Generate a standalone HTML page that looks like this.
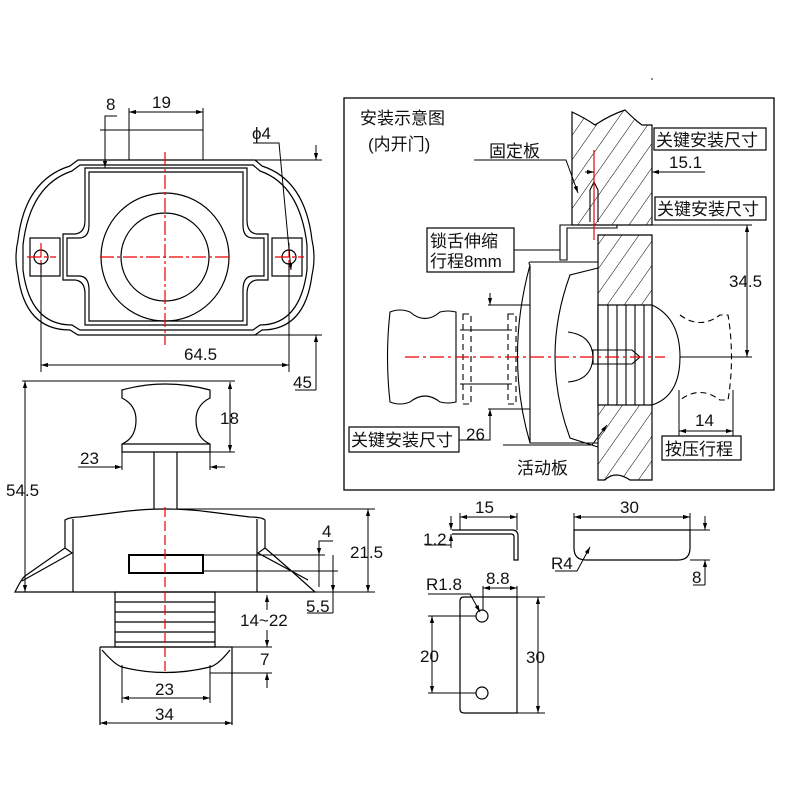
<!DOCTYPE html>
<html><head><meta charset="utf-8"><style>
html,body{margin:0;padding:0;background:#fff}
svg{display:block}
text{font-family:"Liberation Sans","Noto Sans CJK SC",sans-serif;fill:#111}
</style></head><body>
<svg width="800" height="800" viewBox="0 0 800 800" xmlns="http://www.w3.org/2000/svg">
<defs>
<marker id="a" viewBox="0 0 10 10" refX="10" refY="5" markerWidth="7" markerHeight="7" orient="auto-start-reverse"><path d="M0,2 L10,5 L0,8z" fill="#000"/></marker>
<pattern id="h" width="14" height="14" patternUnits="userSpaceOnUse" patternTransform="rotate(35)"><line x1="0" y1="0" x2="0" y2="14" stroke="#000" stroke-width="1"/></pattern>
</defs>
<g fill="none" stroke="#000" stroke-width="1.2">
<!-- TOP VIEW -->
<path d="M78,160 L255,160 L262,166 Q305,180 312,240 Q316,257 312,275 Q305,330 262,330 L255,335 L78,335 L70,330 Q25,330 18,275 Q14,257 18,240 Q25,180 70,166 Z"/>
<path d="M80,165 L253,165 L260,171 Q300,185 307,245 L307,270 Q300,325 260,325 L253,330 L80,330 L72,325 Q30,325 23,270 L23,245 Q30,185 72,171 Z"/>
<path d="M85,168 L247,168 L247,220 Q247,233 257,234 L268,234 L268,280 L257,280 Q247,281 247,294 L247,325 L85,325 L85,294 Q85,281 75,280 L63,280 L63,234 L75,234 Q85,233 85,220 Z"/>
<path d="M89,172 L243,172 L243,225 Q243,238 253,238 L264,238 L264,276 L253,276 Q243,276 243,290 L243,321 L89,321 L89,290 Q89,276 79,276 L67,276 L67,238 L79,238 Q89,238 89,225 Z"/>
<rect x="30" y="238" width="30" height="38"/><rect x="272" y="238" width="30" height="38"/>
<circle cx="165" cy="257" r="64"/><circle cx="165" cy="257" r="44"/>
<circle cx="41" cy="257" r="7"/><circle cx="289" cy="257" r="7"/>
</g>
<g stroke="#e00" stroke-width="1.2" stroke-dasharray="14,3,3,3" fill="none">
<line x1="165" y1="152" x2="165" y2="345"/><line x1="100" y1="257" x2="232" y2="257"/>
<line x1="27" y1="257" x2="56" y2="257"/><line x1="41" y1="243" x2="41" y2="273"/>
<line x1="275" y1="257" x2="304" y2="257"/><line x1="289" y1="243" x2="289" y2="273"/>
</g>
<g stroke="#000" stroke-width="1" fill="none">
<line x1="129" y1="112" x2="203" y2="112" marker-start="url(#a)" marker-end="url(#a)"/>
<line x1="129" y1="108" x2="129" y2="160"/><line x1="203" y1="108" x2="203" y2="160"/>
<line x1="100" y1="130" x2="203" y2="130"/>
<polyline points="117,116 105,116 105,168" marker-end="url(#a)"/>
<polyline points="253,143 279,143 291,270" marker-end="url(#a)"/>
<line x1="41" y1="263" x2="41" y2="372"/><line x1="289" y1="263" x2="289" y2="372"/>
<line x1="41" y1="365" x2="289" y2="365" marker-start="url(#a)" marker-end="url(#a)"/>
<line x1="232" y1="160" x2="322" y2="160"/><line x1="232" y1="335" x2="322" y2="335"/>
<line x1="316" y1="145" x2="316" y2="160" marker-end="url(#a)"/>
<line x1="316" y1="390" x2="316" y2="335" marker-end="url(#a)"/>
<line x1="295" y1="390" x2="316" y2="390"/>
</g>
<g font-size="17">
<text x="106" y="110">8</text><text x="152" y="108">19</text>
<text x="252" y="139">ϕ4</text><text x="184" y="360">64.5</text><text x="293" y="388">45</text>
</g>
<!-- SIDE VIEW -->
<g fill="none" stroke="#000" stroke-width="1.2">
<path d="M122,390 Q165,378 210,390 L210,398 Q196,405 196,420 Q196,438 210,444 L210,452 L122,452 L122,444 Q136,438 136,420 Q136,405 122,398 Z"/>
<line x1="122" y1="444" x2="210" y2="444"/>
<line x1="154" y1="452" x2="154" y2="509"/><line x1="177" y1="452" x2="177" y2="509"/>
<path d="M65,520 Q70,517 80,517 L120,512 Q165,506 210,512 L250,517 Q262,517 265,520 L265,548 Q285,565 315,592 L15,592 Q22,578 25,576 L65,548 Z"/>
<line x1="73" y1="519" x2="73" y2="592"/><line x1="257" y1="519" x2="257" y2="592"/>
<path d="M65,548 L72,553 L22,581"/><path d="M265,548 L258,553 L308,580"/>
<rect x="129" y="555" width="74" height="18" stroke-width="2"/>
<rect x="115" y="592" width="100" height="55"/>
<line x1="115" y1="602" x2="215" y2="602"/><line x1="115" y1="612" x2="215" y2="612"/><line x1="115" y1="622" x2="215" y2="622"/><line x1="115" y1="632" x2="215" y2="632"/><line x1="115" y1="642" x2="215" y2="642"/>
<path d="M100,647 L232,647 L232,725 M100,647 L100,725"/>
<path d="M102,650 Q115,665 122,667 Q165,678 210,667 Q218,665 230,650"/>
</g>
<line x1="165" y1="507" x2="165" y2="675" stroke="#e00" stroke-width="1.2" stroke-dasharray="10,4"/>
<g stroke="#000" stroke-width="1" fill="none">
<line x1="22" y1="381" x2="235" y2="381"/>
<line x1="25" y1="381" x2="25" y2="592" marker-start="url(#a)" marker-end="url(#a)"/>
<line x1="230" y1="382" x2="230" y2="452" marker-start="url(#a)" marker-end="url(#a)"/>
<line x1="210" y1="452" x2="235" y2="452"/>
<line x1="78" y1="467" x2="122" y2="467" marker-end="url(#a)"/><line x1="225" y1="467" x2="210" y2="467" marker-end="url(#a)"/>
<line x1="122" y1="452" x2="122" y2="470"/><line x1="210" y1="452" x2="210" y2="470"/>
<line x1="177" y1="509" x2="375" y2="509"/><line x1="315" y1="592" x2="375" y2="592"/>
<line x1="368" y1="509" x2="368" y2="592" marker-start="url(#a)" marker-end="url(#a)"/>
<line x1="203" y1="555" x2="325" y2="555"/><line x1="203" y1="571" x2="338" y2="571"/>
<polyline points="333,541 319,541 319,587"/>
<line x1="319" y1="541" x2="319" y2="555" marker-end="url(#a)"/>
<line x1="333" y1="555" x2="333" y2="613"/><line x1="333" y1="571" x2="333" y2="592" marker-end="url(#a)"/>
<line x1="307" y1="613" x2="333" y2="613"/>
<line x1="267" y1="595" x2="267" y2="610" marker-start="url(#a)"/>
<line x1="267" y1="630" x2="267" y2="647" marker-end="url(#a)"/>
<line x1="232" y1="647" x2="272" y2="647"/><line x1="210" y1="673" x2="272" y2="673"/>
<line x1="267" y1="673" x2="267" y2="688" marker-start="url(#a)"/>
<line x1="122" y1="665" x2="122" y2="703"/><line x1="210" y1="665" x2="210" y2="703"/>
<line x1="122" y1="698" x2="210" y2="698" marker-start="url(#a)" marker-end="url(#a)"/>
<line x1="100" y1="723" x2="232" y2="723" marker-start="url(#a)" marker-end="url(#a)"/>
</g>
<g font-size="17">
<text x="6" y="496">54.5</text><text x="220" y="424">18</text><text x="80" y="464">23</text>
<text x="350" y="558">21.5</text><text x="322" y="537">4</text><text x="306" y="612">5.5</text>
<text x="240" y="626">14~22</text><text x="260" y="665">7</text>
<text x="155" y="695">23</text><text x="155" y="720">34</text>
</g>
<!-- INSTALL BOX -->
<rect x="344" y="98" width="430" height="392" fill="none" stroke="#000" stroke-width="1.3"/>
<g stroke="#000" stroke-width="1.2">
<path d="M572,225 L572,112 Q585,118 595,125 Q610,115 625,110 Q635,120 642,125 L652,125 L652,225 Z" fill="url(#h)"/>
<path d="M598,235 L652,235 L652,480 L630,480 Q615,470 605,480 L598,480 Z" fill="url(#h)"/>
<rect x="598" y="305" width="54" height="100" fill="#fff"/>
</g>
<g fill="none" stroke="#000" stroke-width="1.1">
<line x1="608" y1="305" x2="608" y2="405"/><line x1="617" y1="305" x2="617" y2="405"/><line x1="626" y1="305" x2="626" y2="405"/><line x1="635" y1="305" x2="635" y2="405"/><line x1="644" y1="305" x2="644" y2="405"/>
<path d="M560,225 L617,225 L617,228 L567,228 L567,260 L560,260 L560,232 Z"/>
<path d="M530,262 L598,262 M530,262 Q528,263 530,265 L530,443 L598,443 M530,265 Q505,357 530,443"/>
<path d="M598,268 L570,275 Q540,357 570,438 L598,447"/>
<path d="M568,332 Q592,335 593,357 Q592,380 568,382"/>
<path d="M593,350 L632,350 L640,357 L632,364 L593,364 Z"/>
<path d="M652,305 Q680,318 680,357 Q680,396 652,405"/>
<path d="M390,312 Q400,308 410,312 Q425,325 440,312 Q448,310 456,312 L456,402 Q448,404 440,402 Q425,390 410,402 Q400,406 390,402 Q385,357 390,312 Z"/>
<line x1="460" y1="330" x2="512" y2="330"/><line x1="460" y1="384" x2="512" y2="384"/>
<line x1="488" y1="305" x2="530" y2="305"/><line x1="488" y1="409" x2="530" y2="409"/>
<path d="M680,315 Q700,330 720,315 L728,315 Q735,357 728,400 L720,400 Q700,385 680,400" stroke-dasharray="6,4"/>
<rect x="463" y="314" width="8" height="90" stroke-dasharray="6,4"/>
<rect x="508" y="314" width="8" height="90" stroke-dasharray="6,4"/>
<path d="M590,222 L590,190 L594,182 L598,190 L598,222" />
</g>
<line x1="594" y1="150" x2="594" y2="240" stroke="#e00" stroke-width="1.2"/>
<line x1="405" y1="357" x2="665" y2="357" stroke="#e00" stroke-width="1.2" stroke-dasharray="14,4,3,4"/>
<g stroke="#000" stroke-width="1" fill="none">
<polyline points="474,160 566,160 578,193" marker-end="url(#a)"/>
<line x1="585" y1="172" x2="594" y2="172" marker-end="url(#a)"/>
<line x1="705" y1="172" x2="652" y2="172" marker-end="url(#a)"/>
<line x1="652" y1="225" x2="752" y2="225"/><line x1="680" y1="357" x2="752" y2="357"/>
<line x1="747" y1="225" x2="747" y2="357" marker-start="url(#a)" marker-end="url(#a)"/>
<line x1="514" y1="250" x2="560" y2="250"/>
<line x1="490" y1="293" x2="490" y2="305" marker-end="url(#a)"/>
<line x1="490" y1="420" x2="490" y2="409" marker-end="url(#a)"/>
<polyline points="459,440 490,440 490,420"/>
<polyline points="503,445 592,445 607,425" marker-end="url(#a)"/>
<line x1="679" y1="390" x2="679" y2="436"/><line x1="733" y1="390" x2="733" y2="436"/>
<line x1="679" y1="431" x2="733" y2="431" marker-start="url(#a)" marker-end="url(#a)"/>
<rect x="654" y="128" width="112" height="22" stroke-width="1.2"/>
<rect x="655" y="197" width="111" height="23" stroke-width="1.2"/>
<rect x="427" y="228" width="87" height="44" stroke-width="1.2"/>
<rect x="349" y="427" width="110" height="25" stroke-width="1.2"/>
<rect x="662" y="436" width="79" height="24" stroke-width="1.2"/>
</g>
<g font-size="17">
<text x="360" y="124">安装示意图</text><text x="368" y="150">(内开门)</text>
<text x="489" y="157">固定板</text>
<text x="656" y="146">关键安装尺寸</text><text x="669" y="168">15.1</text>
<text x="657" y="215">关键安装尺寸</text><text x="729" y="287">34.5</text>
<text x="430" y="247">锁舌伸缩</text><text x="430" y="267">行程8mm</text>
<text x="351" y="446">关键安装尺寸</text><text x="466" y="440">26</text>
<text x="517" y="474">活动板</text><text x="665" y="455">按压行程</text><text x="695" y="426">14</text>
</g>
<!-- SMALL PARTS -->
<g fill="none" stroke="#000" stroke-width="1.2">
<path d="M452,530 L512,530 Q518,530 518,536 L518,560 L514,560 L514,537 Q514,534 511,534 L452,534"/>
<path d="M574,530 L690,530 L690,548 Q690,560 678,560 L586,560 Q574,560 574,548 Z"/>
<path d="M464,597 L517,597 L517,713 L464,713 Q460,713 460,709 L460,601 Q460,597 464,597 Z"/>
<circle cx="482" cy="616" r="6"/><circle cx="482" cy="693" r="6"/>
</g>
<g stroke="#000" stroke-width="1" fill="none">
<line x1="460" y1="517" x2="517" y2="517" marker-start="url(#a)" marker-end="url(#a)"/>
<line x1="460" y1="513" x2="460" y2="530"/><line x1="517" y1="513" x2="517" y2="530"/>
<line x1="451" y1="516" x2="451" y2="530" marker-end="url(#a)"/>
<line x1="451" y1="548" x2="451" y2="534" marker-end="url(#a)"/>
<line x1="425" y1="545" x2="451" y2="545"/>
<line x1="574" y1="517" x2="690" y2="517" marker-start="url(#a)" marker-end="url(#a)"/>
<line x1="574" y1="513" x2="574" y2="530"/><line x1="690" y1="513" x2="690" y2="530"/>
<line x1="690" y1="530" x2="710" y2="530"/><line x1="690" y1="560" x2="710" y2="560"/>
<line x1="705" y1="516" x2="705" y2="530" marker-end="url(#a)"/>
<line x1="705" y1="585" x2="705" y2="560" marker-end="url(#a)"/>
<line x1="693" y1="585" x2="705" y2="585"/>
<polyline points="555,571 577,571 590,547" marker-end="url(#a)"/>
<polyline points="428,594 470,594 480,612" marker-end="url(#a)"/>
<line x1="483" y1="586" x2="483" y2="610"/>
<line x1="483" y1="588" x2="517" y2="588" marker-start="url(#a)" marker-end="url(#a)"/>
<line x1="517" y1="586" x2="517" y2="597"/>
<line x1="517" y1="597" x2="545" y2="597"/><line x1="517" y1="713" x2="545" y2="713"/>
<line x1="538" y1="597" x2="538" y2="713" marker-start="url(#a)" marker-end="url(#a)"/>
<line x1="428" y1="616" x2="476" y2="616"/><line x1="428" y1="693" x2="476" y2="693"/>
<line x1="432" y1="616" x2="432" y2="693" marker-start="url(#a)" marker-end="url(#a)"/>
</g>
<g font-size="17">
<text x="475" y="513">15</text><text x="423" y="545">1.2</text>
<text x="620" y="513">30</text><text x="551" y="569">R4</text><text x="692" y="583">8</text>
<text x="426" y="590">R1.8</text><text x="486" y="584">8.8</text>
<text x="420" y="662">20</text><text x="526" y="663">30</text>
</g>
<circle cx="652" cy="79" r="0.8" fill="#000"/>
</svg>
</body></html>
